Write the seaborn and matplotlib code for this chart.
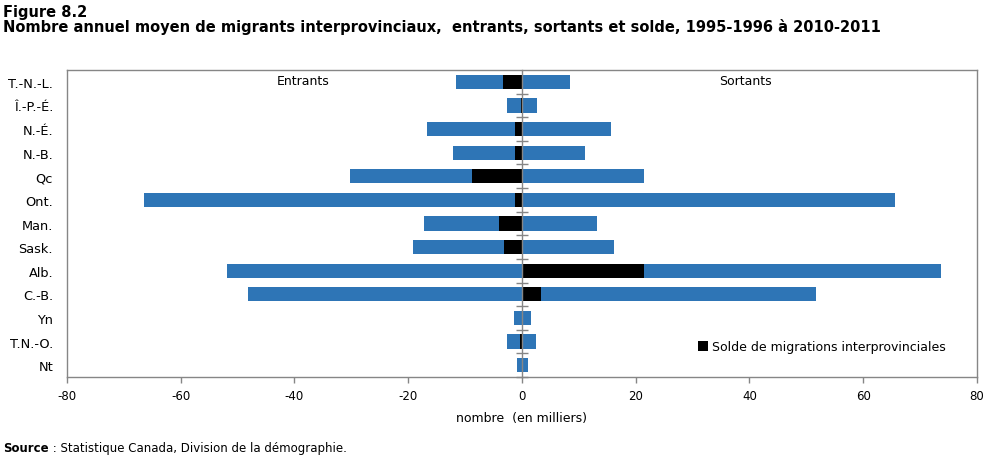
import matplotlib
matplotlib.use("Agg")
import matplotlib.pyplot as plt
import seaborn as sns
import numpy as np
import pandas as pd

# ---- data (thousands) ----
provinces = ["T.-N.-L.", "Î.-P.-É.", "N.-É.", "N.-B.", "Qc", "Ont.", "Man.",
             "Sask.", "Alb.", "C.-B.", "Yn", "T.N.-O.", "Nt"]
entrants = [11.6, 2.6, 16.7, 12.1, 30.3, 66.5, 17.3, 19.2, 51.9, 48.2, 1.4, 2.6, 0.9]
sortants = [8.4, 2.6, 15.7, 11.1, 21.5, 65.5, 13.2, 16.2, 73.6, 51.7, 1.6, 2.5, 1.0]
solde = [-3.4, -0.1, -1.2, -1.2, -8.8, -1.2, -4.0, -3.2, 21.5, 3.3, 0.0, -0.35, 0.0]
xticks = [-80, -60, -40, -20, 0, 20, 40, 60, 80]

title1 = "Figure 8.2"
title2 = "Nombre annuel moyen de migrants interprovinciaux,  entrants, sortants et solde, 1995-1996 à 2010-2011"
xlabel = "nombre  (en milliers)"
legend_label = "Solde de migrations interprovinciales"

BLUE = "#2E75B6"
GRAY = "#868686"

sns.set_theme(style="white")
plt.rcParams["font.family"] = ["DejaVu Sans"]
plt.rcParams["text.color"] = "black"
plt.rcParams["xtick.color"] = "black"
plt.rcParams["ytick.color"] = "black"
plt.rcParams["axes.labelcolor"] = "black"

df = pd.DataFrame({"prov": provinces,
                   "entrants": -np.array(entrants),
                   "sortants": np.array(sortants),
                   "solde": np.array(solde)})

fig = plt.figure(figsize=(10.03, 4.56), dpi=100)
ax = fig.add_axes([67 / 1003, 1 - 378 / 456, (977 - 67) / 1003, (378 - 71) / 456])

kw = dict(orient="h", width=0.6, saturation=1, ax=ax, order=provinces, linewidth=0)
sns.barplot(data=df, x="entrants", y="prov", color=BLUE, **kw)
sns.barplot(data=df, x="sortants", y="prov", color=BLUE, **kw)
sns.barplot(data=df, x="solde", y="prov", color="black", label=legend_label, **kw)

n = len(provinces)
ax.set_xlim(-80, 80)
ax.set_ylim(n - 0.5, -0.5)
ax.set_xticks(xticks)
ax.set_xticklabels([str(t) for t in xticks], fontsize=8.5)
ax.set_yticks(range(n))
ax.set_yticklabels(provinces, fontsize=9.3)
ax.tick_params(axis="y", length=0, pad=10)
ax.tick_params(axis="x", length=4, width=1, color=GRAY, direction="out", pad=5, bottom=True)
ax.set_ylabel("")
ax.set_xlabel(xlabel, fontsize=9, labelpad=6)
for s in ax.spines.values():
    s.set_visible(True)
    s.set_color(GRAY)
    s.set_linewidth(1)

# zero axis with crossing tick marks at category boundaries
ax2 = ax.twinx()
ax2.set_ylim(ax.get_ylim())
for k in ["top", "bottom", "right"]:
    ax2.spines[k].set_visible(False)
ax2.spines["left"].set_position(("data", 0))
ax2.spines["left"].set_color(GRAY)
ax2.spines["left"].set_linewidth(1)
ax2.yaxis.set_ticks_position("left")
ax2.set_yticks(np.arange(-0.5, n, 1.0)[1:])
ax2.set_yticklabels([])
ax2.tick_params(axis="y", direction="inout", length=9, width=1, color=GRAY)

ax.text(0.26, 0.966, "Entrants", transform=ax.transAxes, ha="center", va="center", fontsize=9)
ax.text(0.745, 0.966, "Sortants", transform=ax.transAxes, ha="center", va="center", fontsize=9)

leg = ax.legend(loc="lower right", bbox_to_anchor=(0.978, 0.04), frameon=False,
                fontsize=9, handlelength=0.8, handleheight=0.8, handletextpad=0.3)

fig.text(0.003, 0.99, title1, fontsize=10.5, fontweight="bold", va="top", ha="left")
fig.text(0.003, 0.958, title2, fontsize=10.5, fontweight="bold", va="top", ha="left")
t1 = fig.text(0.003, 0.003, "Source", fontsize=8.5, fontweight="bold", va="bottom", ha="left")
fig.canvas.draw()
bb = t1.get_window_extent()
fig.text(bb.x1 / fig.bbox.width, 0.003, " : Statistique Canada, Division de la démographie.",
         fontsize=8.5, va="bottom", ha="left")

fig.savefig("out.png", dpi=100)
